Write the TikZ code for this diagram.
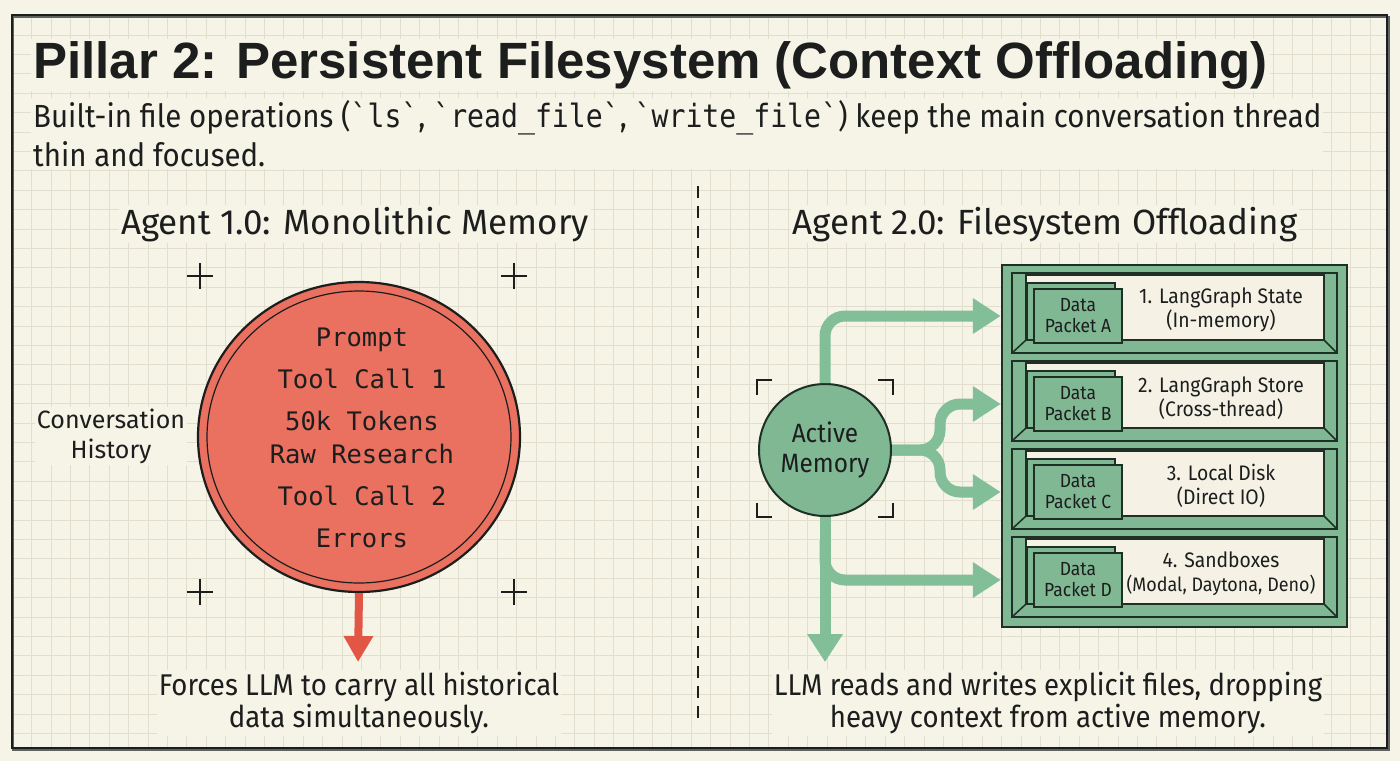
\documentclass[tikz,border=0pt]{standalone}
\usepackage{fontspec}
\setmainfont{Fira Sans}
\newfontfamily\titlef{Liberation Sans}
\newfontfamily\condf[FakeStretch=0.92]{Fira Sans}
\newfontfamily\condmono[FakeStretch=0.88,Ligatures=TeXOff]{DejaVu Sans Mono}
\newfontfamily\monof[Ligatures=TeXOff]{DejaVu Sans Mono}
\usetikzlibrary{arrows.meta,shapes.geometric}
\definecolor{bg}{RGB}{246,243,231}
\definecolor{gridc}{RGB}{226,222,205}
\definecolor{ink}{RGB}{28,30,30}
\definecolor{redf}{RGB}{234,112,96}
\definecolor{reda}{RGB}{226,86,70}
\definecolor{greenf}{RGB}{128,184,148}
\definecolor{greena}{RGB}{130,190,152}
\definecolor{greend}{RGB}{30,48,38}
\definecolor{panel}{RGB}{245,242,229}
\newcommand{\bt}{\symbol{96}}
\tikzset{
  txt/.style={inner sep=2pt, text=ink},
  masked/.style={fill=bg},
  garrow/.style={draw=greena, line width=11pt, rounded corners=20pt, -{Triangle[width=34pt,length=28pt]}},
  crossmark/.style={draw=ink, line width=1.8pt},
  bracket/.style={draw=ink, line width=2.5pt},
  shelfbox/.style={fill=greenf, draw=greend, line width=2pt},
  panelbox/.style={fill=panel, draw=greend, line width=1.5pt},
  packet/.style={fill=greenf, draw=greend, line width=1.8pt},
}
\begin{document}
\begin{tikzpicture}[x=1pt,y=-1pt]
\useasboundingbox (0,0) rectangle (1400,761);
\fill[bg] (0,0) rectangle (1400,761);
% grid
\foreach \k in {0,...,70} { \draw[gridc, line width=0.9pt] ({12.3+19.4*\k},15) -- ({12.3+19.4*\k},748); }
\foreach \k in {0,...,37} { \draw[gridc, line width=0.9pt] (12,{15.6+19.4*\k}) -- (1387,{15.6+19.4*\k}); }
% frame
\draw[ink!70, line width=1.2pt] (13,17) rectangle (1389,750);
\draw[ink, line width=2pt] (12,15) rectangle (1387,748);

% title
\node[txt, masked, anchor=base west, font=\titlef\bfseries\fontsize{51}{60}\selectfont] (title) at (31,78) {Pillar 2: Persistent Filesystem (Context Offloading)};
\node[txt, masked, anchor=north west, align=left, font=\condf\fontsize{32}{39}\selectfont] (sub) at (31,98)
 {Built-in file operations ({\condmono\bt ls\bt}, {\condmono\bt read\_file\bt}, {\condmono\bt write\_file\bt}) keep the main conversation thread\\thin and focused.};

% divider
\draw[ink, line width=2pt, dash pattern=on 12pt off 8pt] (698,186) -- (698,722);

% headers
\node[txt, masked, anchor=base, font=\fontsize{35}{40}\selectfont] (h1) at (355,234) {Agent 1.0: Monolithic Memory};
\node[txt, masked, anchor=base, font=\fontsize{35}{40}\selectfont] (h2) at (1045,234) {Agent 2.0: Filesystem Offloading};

% ---------- left ----------
\foreach \cx/\cy in {200/276, 514/276, 200/592, 514/592}
  { \draw[crossmark] (\cx-13,\cy) -- (\cx+13,\cy) (\cx,\cy-13) -- (\cx,\cy+13); }

\node[draw=ink, line width=2.2pt, fill=redf, ellipse, minimum width=322pt, minimum height=310pt, inner sep=0pt] (mono) at (359,437) {};
\draw[ink, line width=1.2pt] (mono.center) ellipse [x radius=152pt, y radius=146pt];
\node[txt, align=center, font=\monof\fontsize{25.5}{42}\selectfont] (stack) at (362,438)
 {Prompt\\Tool Call 1\\50k Tokens\\[-9pt]Raw Research\\Tool Call 2\\Errors};

\node[txt, masked, align=center, font=\fontsize{25}{30}\selectfont] (hist) at (111,436) {Conversation\\History};

\coordinate (redend) at (358,662);
\draw[reda, line width=8pt, -{Triangle[width=28pt,length=26pt]}] (mono.south) -- (redend);

\node[txt, masked, align=center, font=\condf\fontsize{30}{32}\selectfont] (cap1) at (359,703)
 {Forces LLM to carry all historical\\data simultaneously.};

% ---------- right ----------
\node[fill=greenf, draw=greend, line width=2.5pt, minimum width=345pt, minimum height=362pt, inner sep=0pt] (unit) at (1174.5,446) {};

\foreach \i/\lab/\sub/\L in {0/{1. LangGraph State}/{(In-memory)}/A, 1/{2. LangGraph Store}/{(Cross-thread)}/B, 2/{3. Local Disk}/{(Direct IO)}/C, 3/{4. Sandboxes}/{{\fontsize{19.5}{24}\selectfont(Modal, Daytona, Deno)}}/D}{
  \pgfmathsetmacro\t{273+88*\i}
  \pgfmathsetmacro\b{\t+80}
  \draw[shelfbox] (1012,\t) rectangle (1337,\b);
  \draw[panelbox] (1026,\t+2) rectangle (1324,\b-13);
  \draw[greend, line width=1.5pt] (1026,\b-13) -- (1012,\b) (1324,\b-13) -- (1337,\b);
  \draw[packet] (1027,\t+10) rectangle (1115,\b-13);
  \node[packet, minimum width=88pt, minimum height=54pt, inner sep=0pt, align=center,
        font=\condf\fontsize{19}{21}\selectfont, text=ink] (pk\L) at (1078,\t+43) {Data\\Packet \L};
  \node[txt, align=center, font=\condf\fontsize{21}{24}\selectfont] (lb\L) at (1221,\t+37) {\lab\\\sub};
}

\node[circle, fill=greenf, draw=greend, line width=2pt, minimum size=132pt, inner sep=0pt,
      align=center, font=\condf\fontsize{26.5}{30}\selectfont, text=ink] (am) at (825,450) {Active\\Memory};
% brackets
\draw[bracket] (757,395) -- (757,380) -- (772,380);
\draw[bracket] (878,380) -- (893,380) -- (893,395);
\draw[bracket] (757,503) -- (757,517) -- (772,517);
\draw[bracket] (878,517) -- (893,517) -- (893,503);

\coordinate (tA) at (unit.west |- pkA);
\coordinate (tB) at (unit.west |- pkB);
\coordinate (tC) at (unit.west |- pkC);
\coordinate (tD) at (unit.west |- pkD);
\coordinate (fork) at (940,450);
\coordinate (br) at (825,540);
\coordinate (gend) at (825,662);

\draw[garrow] (am.north) |- (tA);
\draw[garrow] (am.east) -- (fork) |- (tB);
\draw[garrow] (am.east) -- (fork) |- (tC);
\draw[garrow] (br) |- (tD);
\draw[garrow] (am.south) -- (gend);

\node[txt, masked, align=center, font=\condf\fontsize{30}{32}\selectfont] (cap2) at (1048,703)
 {LLM reads and writes explicit files, dropping\\heavy context from active memory.};
\end{tikzpicture}
\end{document}
